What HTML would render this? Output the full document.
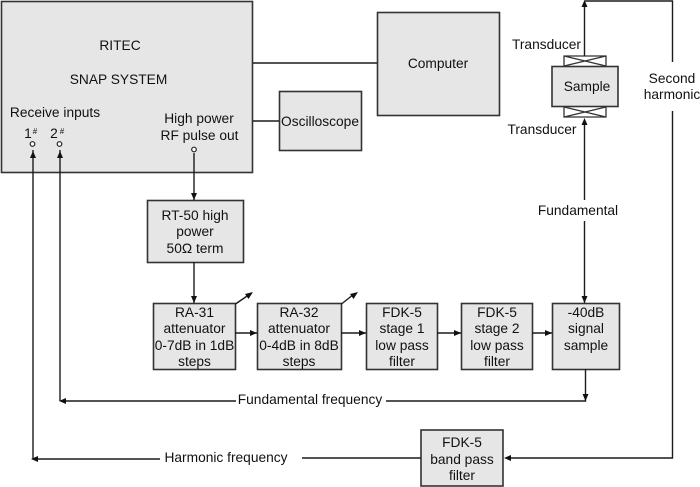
<!DOCTYPE html>
<html><head><meta charset="utf-8"><style>
html,body{margin:0;padding:0;background:#fff}
svg{display:block}
text{font-family:"Liberation Sans",Arial,sans-serif;font-size:13.75px;fill:#111;text-anchor:middle}
.b{fill:#e6e6e6;stroke:#333;stroke-width:1.6}
.l{fill:none;stroke:#1c1c1c;stroke-width:1.4}
.g{fill:none;stroke:#333;stroke-width:1.3}
.a{fill:#111}
.c{fill:#fff;stroke:#222;stroke-width:1.2}
</style></head><body>
<svg width="700" height="487" viewBox="0 0 700 487" xmlns="http://www.w3.org/2000/svg">
<rect class="b" x="1.5" y="1.5" width="251" height="171"/>
<rect class="b" x="377.5" y="12.5" width="122" height="103"/>
<rect class="b" x="279.5" y="91.5" width="82" height="59"/>
<rect class="b" x="147.5" y="200.5" width="96" height="62"/>
<rect class="b" x="153.5" y="303.5" width="82" height="66"/>
<rect class="b" x="257.5" y="303.5" width="84" height="66"/>
<rect class="b" x="366.5" y="303.5" width="71" height="66"/>
<rect class="b" x="461.5" y="303.5" width="71" height="66"/>
<rect class="b" x="552.5" y="303.5" width="67" height="66"/>
<rect class="b" x="421" y="430" width="82" height="56"/>
<rect class="b" x="552" y="66.5" width="66" height="40"/>
<g class="g">
<path d="M564 66V56H606V66M564 56L606 66M606 56L564 66"/>
<path d="M564 107V117H606V107M564 107L606 117M606 107L564 117"/>
</g>
<g class="l">
<path d="M253 63H377M253 121H279"/>
<path d="M194 153V200M194 262V303"/>
<path d="M235 333H257M341 333H366M437 333H461M532 333H552"/>
<path d="M235.500 304L250 294M341.500 304L354 294"/>
<path d="M584.500 56V4M584.500 1H672.500V62M672.500 111V458H510"/>
<path d="M584.500 120V200M584.500 221V303"/>
<path d="M585.500 369V401H386M236 401H64M60 150V401"/>
<path d="M421 458H302M160 459H36M33 150V459"/>
</g>
<g class="a">
<polygon points="194,200 191,193 197,193"/>
<polygon points="194,303 191,296 197,296"/>
<polygon points="257,333 250,330 250,336"/>
<polygon points="366,333 359,330 359,336"/>
<polygon points="461,333 454,330 454,336"/>
<polygon points="552,333 545,330 545,336"/>
<polygon points="253,292 245,294 248.500,299"/>
<polygon points="358,292 350,294 353.500,299"/>
<polygon points="584.500,0 581.500,7 587.500,7"/>
<polygon points="584.500,118 581.500,125 587.500,125"/>
<polygon points="584.500,303 581.500,296 587.500,296"/>
<polygon points="585.500,401 582.500,394 588.500,394"/>
<polygon points="504,458 511,455 511,461"/>
<polygon points="59,401 66,398 66,404"/>
<polygon points="31,459 38,456 38,462"/>
<polygon points="33,151 30,158 36,158"/>
<polygon points="60,151 57,158 63,158"/>
</g>
<circle class="c" cx="32.500" cy="144" r="2.300"/>
<circle class="c" cx="59.500" cy="144" r="2.300"/>
<circle class="c" cx="194" cy="149.500" r="2.300"/>
<text x="120" y="50">RITEC</text>
<text x="118.500" y="84">SNAP SYSTEM</text>
<text x="55" y="117">Receive inputs</text>
<text x="28" y="138">1</text><text x="35" y="134" style="font-size:8px">#</text>
<text x="54" y="138">2</text><text x="62" y="134" style="font-size:8px">#</text>
<text x="199" y="123">High power</text>
<text x="199.500" y="140">RF pulse out</text>
<text x="438" y="68">Computer</text>
<text x="320" y="126">Oscilloscope</text>
<text x="195" y="220">RT-50 high</text>
<text x="195" y="236">power</text>
<text x="195" y="253">50Ω term</text>
<text x="194.500" y="317">RA-31</text>
<text x="194.500" y="333">attenuator</text>
<text x="194.500" y="350">0-7dB in 1dB</text>
<text x="194.500" y="366">steps</text>
<text x="299" y="317">RA-32</text>
<text x="299" y="333">attenuator</text>
<text x="299" y="350">0-4dB in 8dB</text>
<text x="299" y="366">steps</text>
<text x="402" y="317">FDK-5</text>
<text x="402" y="333">stage 1</text>
<text x="402" y="350">low pass</text>
<text x="402" y="366">filter</text>
<text x="497" y="317">FDK-5</text>
<text x="497" y="333">stage 2</text>
<text x="497" y="350">low pass</text>
<text x="497" y="366">filter</text>
<text x="586" y="317">-40dB</text>
<text x="586" y="333">signal</text>
<text x="586" y="350">sample</text>
<text x="462" y="447">FDK-5</text>
<text x="462" y="464">band pass</text>
<text x="462" y="480">filter</text>
<text x="587" y="91">Sample</text>
<text x="546.500" y="49">Transducer</text>
<text x="542" y="134">Transducer</text>
<text x="578" y="215">Fundamental</text>
<text x="672" y="83">Second</text>
<text x="672" y="99">harmonic</text>
<text x="310" y="404">Fundamental frequency</text>
<text x="226" y="462">Harmonic frequency</text>
</svg>
</body></html>
